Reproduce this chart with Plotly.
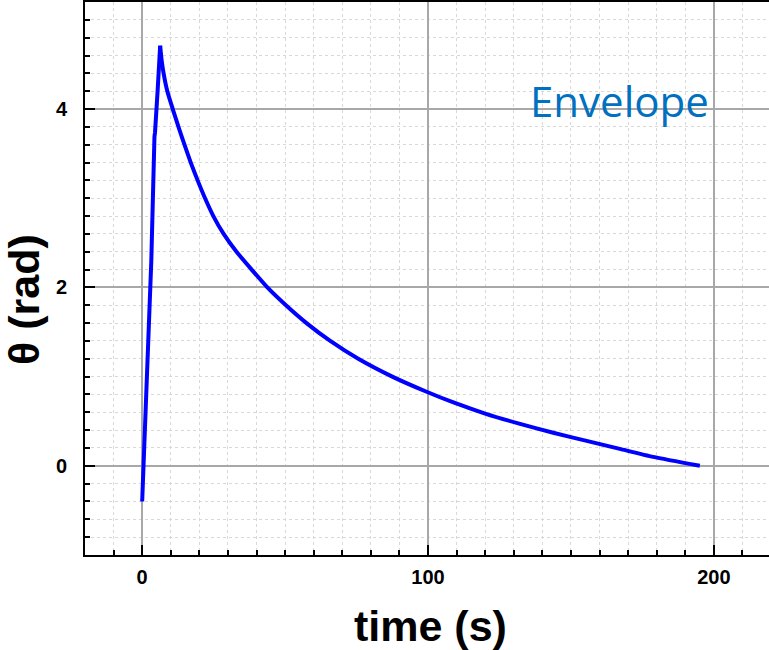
import plotly.graph_objects as go

# Rising edge of the response (straight segment up to the peak)
rise_time_s = [0.0, 1.5, 3.2, 4.3, 4.5, 5.4, 6.3]
rise_theta_rad = [-0.40, 0.96, 2.30, 3.69, 3.74, 4.20, 4.71]

# Decaying envelope after the peak
decay_time_s = [6.3, 6.8, 7.5, 8.8, 10.7, 12.7, 14.8, 17.0, 19.4, 22.0, 24.9,
                28.5, 33.0, 38.3, 43.8, 50.3, 57.5, 65.8, 75.6, 87.5, 99.5,
                108.9, 120.5, 132.2, 143.8, 155.5, 167.1, 178.8, 195.1]
decay_theta_rad = [4.71, 4.55, 4.40, 4.20, 4.00, 3.80, 3.60, 3.40, 3.20, 3.00,
                   2.80, 2.60, 2.40, 2.20, 2.00, 1.80, 1.60, 1.40, 1.20, 1.00,
                   0.83, 0.71, 0.58, 0.47, 0.37, 0.28, 0.19, 0.10, 0.0]

x_ticks = [0, 100, 200]
y_ticks = [0, 2, 4]

curve_line = dict(color="#0000FF", width=4)

fig = go.Figure()
fig.add_trace(go.Scatter(x=rise_time_s, y=rise_theta_rad, mode="lines",
                         line=curve_line, showlegend=False))
fig.add_trace(go.Scatter(x=decay_time_s, y=decay_theta_rad, mode="lines",
                         line=dict(shape="spline", smoothing=0.6, **curve_line),
                         showlegend=False))

tick_font = dict(family="Liberation Sans, Arial", size=20, color="black", weight="bold")
axis_common = dict(
    showline=True, linecolor="black", linewidth=2,
    ticks="inside", ticklen=10, tickwidth=2, tickcolor="black",
    showgrid=True, gridcolor="#a8a8a8", gridwidth=1.5,
    zeroline=False, tickfont=tick_font,
)

fig.update_xaxes(
    range=[-20, 219.3], tickvals=x_ticks, mirror=True, ticklabelstandoff=3,
    minor=dict(dtick=10, ticks="inside", ticklen=5, tickwidth=2, tickcolor="black",
               showgrid=True, gridcolor="#d8d8d8", griddash="dot", gridwidth=1),
    **axis_common,
)
fig.update_yaxes(
    range=[-1, 5.2], tickvals=y_ticks, mirror=False, ticklabelstandoff=12,
    minor=dict(dtick=0.2, tick0=0, ticks="inside", ticklen=5, tickwidth=2, tickcolor="black",
               showgrid=True, gridcolor="#d8d8d8", griddash="dot", gridwidth=1),
    **axis_common,
)

title_font = dict(family="Liberation Sans, Arial", size=43, color="black", weight="bold")
fig.add_annotation(text="time (s)", xref="paper", yref="paper",
                   x=(430 - 85) / 684, y=-0.082, xanchor="center", yanchor="top",
                   showarrow=False, font=title_font)
fig.add_annotation(text="θ (rad)", xref="paper", yref="paper",
                   x=(24 - 85) / 684, y=(555 - 300) / 553, xanchor="center", yanchor="middle",
                   textangle=-90, showarrow=False, font=title_font)
fig.add_annotation(text="Envelope", xref="x", yref="y",
                   x=167, y=4.1, xanchor="center", yanchor="middle",
                   showarrow=False,
                   font=dict(family="Open Sans", size=42, color="#0070C0"))

fig.update_layout(
    width=769, height=650,
    margin=dict(l=85, r=0, t=2, b=95),
    plot_bgcolor="white", paper_bgcolor="white",
)

fig.write_html("out.html")
